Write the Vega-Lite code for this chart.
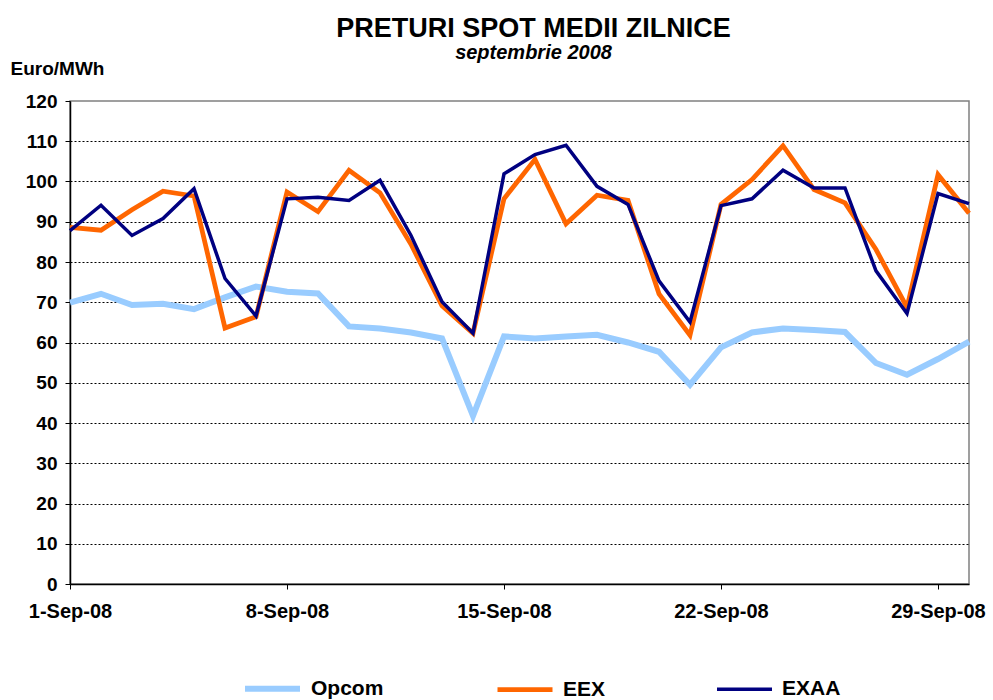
{
  "$schema": "https://vega.github.io/schema/vega-lite/v6.json",
  "width": 899,
  "height": 483,
  "autosize": {"type": "none"},
  "padding": {"left": 70, "top": 101, "right": 24, "bottom": 116},
  "background": "white",
  "config": {
    "font": "Liberation Sans",
    "view": {"stroke": "#808080", "strokeWidth": 1.5}
  },
  "title": {
    "text": "PRETURI SPOT MEDII ZILNICE",
    "subtitle": "septembrie 2008",
    "fontSize": 27,
    "fontWeight": "bold",
    "color": "black",
    "subtitleFontSize": 20,
    "subtitleFontWeight": "bold",
    "subtitleFontStyle": "italic",
    "subtitleColor": "black",
    "subtitlePadding": 0,
    "anchor": "middle",
    "frame": "group",
    "dx": 14,
    "offset": -5
  },
  "data": {
    "values": [
      {"d":1,"s":"Opcom","v":69.9},{"d":2,"s":"Opcom","v":72.1},{"d":3,"s":"Opcom","v":69.3},{"d":4,"s":"Opcom","v":69.6},{"d":5,"s":"Opcom","v":68.3},{"d":6,"s":"Opcom","v":71.2},{"d":7,"s":"Opcom","v":73.9},{"d":8,"s":"Opcom","v":72.6},{"d":9,"s":"Opcom","v":72.2},{"d":10,"s":"Opcom","v":64.0},{"d":11,"s":"Opcom","v":63.5},{"d":12,"s":"Opcom","v":62.5},{"d":13,"s":"Opcom","v":61.0},{"d":14,"s":"Opcom","v":41.8},{"d":15,"s":"Opcom","v":61.5},{"d":16,"s":"Opcom","v":61.0},{"d":17,"s":"Opcom","v":61.5},{"d":18,"s":"Opcom","v":61.9},{"d":19,"s":"Opcom","v":60.0},{"d":20,"s":"Opcom","v":57.7},{"d":21,"s":"Opcom","v":49.5},{"d":22,"s":"Opcom","v":58.8},{"d":23,"s":"Opcom","v":62.5},{"d":24,"s":"Opcom","v":63.5},{"d":25,"s":"Opcom","v":63.1},{"d":26,"s":"Opcom","v":62.6},{"d":27,"s":"Opcom","v":54.9},{"d":28,"s":"Opcom","v":52.0},{"d":29,"s":"Opcom","v":55.9},{"d":30,"s":"Opcom","v":60.2},
      {"d":1,"s":"EEX","v":88.6},{"d":2,"s":"EEX","v":87.9},{"d":3,"s":"EEX","v":93.0},{"d":4,"s":"EEX","v":97.6},{"d":5,"s":"EEX","v":96.4},{"d":6,"s":"EEX","v":63.6},{"d":7,"s":"EEX","v":66.4},{"d":8,"s":"EEX","v":97.4},{"d":9,"s":"EEX","v":92.5},{"d":10,"s":"EEX","v":102.8},{"d":11,"s":"EEX","v":97.2},{"d":12,"s":"EEX","v":84.4},{"d":13,"s":"EEX","v":69.1},{"d":14,"s":"EEX","v":62.3},{"d":15,"s":"EEX","v":95.7},{"d":16,"s":"EEX","v":105.5},{"d":17,"s":"EEX","v":89.5},{"d":18,"s":"EEX","v":96.6},{"d":19,"s":"EEX","v":95.3},{"d":20,"s":"EEX","v":72.1},{"d":21,"s":"EEX","v":61.8},{"d":22,"s":"EEX","v":94.3},{"d":23,"s":"EEX","v":100.5},{"d":24,"s":"EEX","v":108.9},{"d":25,"s":"EEX","v":98.0},{"d":26,"s":"EEX","v":94.7},{"d":27,"s":"EEX","v":83.1},{"d":28,"s":"EEX","v":68.7},{"d":29,"s":"EEX","v":101.7},{"d":30,"s":"EEX","v":92.1},
      {"d":1,"s":"EXAA","v":87.8},{"d":2,"s":"EXAA","v":94.1},{"d":3,"s":"EXAA","v":86.6},{"d":4,"s":"EXAA","v":90.8},{"d":5,"s":"EXAA","v":98.2},{"d":6,"s":"EXAA","v":75.9},{"d":7,"s":"EXAA","v":66.6},{"d":8,"s":"EXAA","v":95.7},{"d":9,"s":"EXAA","v":96.1},{"d":10,"s":"EXAA","v":95.3},{"d":11,"s":"EXAA","v":100.3},{"d":12,"s":"EXAA","v":86.6},{"d":13,"s":"EXAA","v":70.1},{"d":14,"s":"EXAA","v":62.3},{"d":15,"s":"EXAA","v":101.9},{"d":16,"s":"EXAA","v":106.7},{"d":17,"s":"EXAA","v":109.0},{"d":18,"s":"EXAA","v":98.8},{"d":19,"s":"EXAA","v":94.3},{"d":20,"s":"EXAA","v":75.3},{"d":21,"s":"EXAA","v":65.1},{"d":22,"s":"EXAA","v":94.0},{"d":23,"s":"EXAA","v":95.7},{"d":24,"s":"EXAA","v":102.8},{"d":25,"s":"EXAA","v":98.4},{"d":26,"s":"EXAA","v":98.4},{"d":27,"s":"EXAA","v":77.8},{"d":28,"s":"EXAA","v":67.2},{"d":29,"s":"EXAA","v":97.0},{"d":30,"s":"EXAA","v":94.5}
    ]
  },
  "mark": {"type": "line", "strokeJoin": "miter", "strokeCap": "butt"},
  "encoding": {
    "x": {
      "field": "d",
      "type": "quantitative",
      "scale": {"domain": [1, 30], "nice": false, "zero": false},
      "axis": {
        "title": null,
        "values": [1, 8, 15, 22, 29],
        "labelExpr": "datum.value + '-Sep-08'",
        "grid": false,
        "domainColor": "black",
        "domainWidth": 1.5,
        "tickColor": "black",
        "tickSize": 5,
        "labelPadding": 12,
        "labelFontSize": 20,
        "labelFontWeight": "bold",
        "labelColor": "black",
        "labelFlush": false,
        "labelOverlap": false
      }
    },
    "y": {
      "field": "v",
      "type": "quantitative",
      "scale": {"domain": [0, 120], "nice": false},
      "axis": {
        "title": "Euro/MWh",
        "titleAngle": 0,
        "titleAlign": "left",
        "titleBaseline": "alphabetic",
        "titleX": -60,
        "titleY": -27,
        "titleFontSize": 19,
        "titleFontWeight": "bold",
        "titleColor": "black",
        "values": [0, 10, 20, 30, 40, 50, 60, 70, 80, 90, 100, 110, 120],
        "grid": true,
        "gridColor": "black",
        "gridDash": [2, 2],
        "gridWidth": 1,
        "gridOpacity": {"condition": {"test": "datum.value == 120 || datum.value == 0", "value": 0}, "value": 1},
        "domainColor": "black",
        "domainWidth": 1.5,
        "tickColor": "black",
        "tickSize": 5,
        "labelPadding": 8,
        "labelFontSize": 19,
        "labelFontWeight": "bold",
        "labelColor": "black"
      }
    },
    "color": {
      "field": "s",
      "type": "nominal",
      "sort": ["Opcom", "EEX", "EXAA"],
      "scale": {"domain": ["Opcom", "EEX", "EXAA"], "range": ["#99CCFF", "#FF6600", "#000080"]},
      "legend": {
        "title": null,
        "orient": "none",
        "direction": "horizontal",
        "legendX": 172,
        "legendY": 557,
        "symbolType": "stroke",
        "symbolSize": 3025,
        "symbolStrokeWidth": 5,
        "labelFontSize": 21,
        "labelFontWeight": "bold",
        "labelColor": "black",
        "labelOffset": 8,
        "columnPadding": 104,
        "labelLimit": 300
      }
    },
    "strokeWidth": {
      "field": "s",
      "type": "nominal",
      "sort": ["Opcom", "EEX", "EXAA"],
      "scale": {"domain": ["Opcom", "EEX", "EXAA"], "range": [6, 3.5, 3.5]},
      "legend": null
    }
  }
}
